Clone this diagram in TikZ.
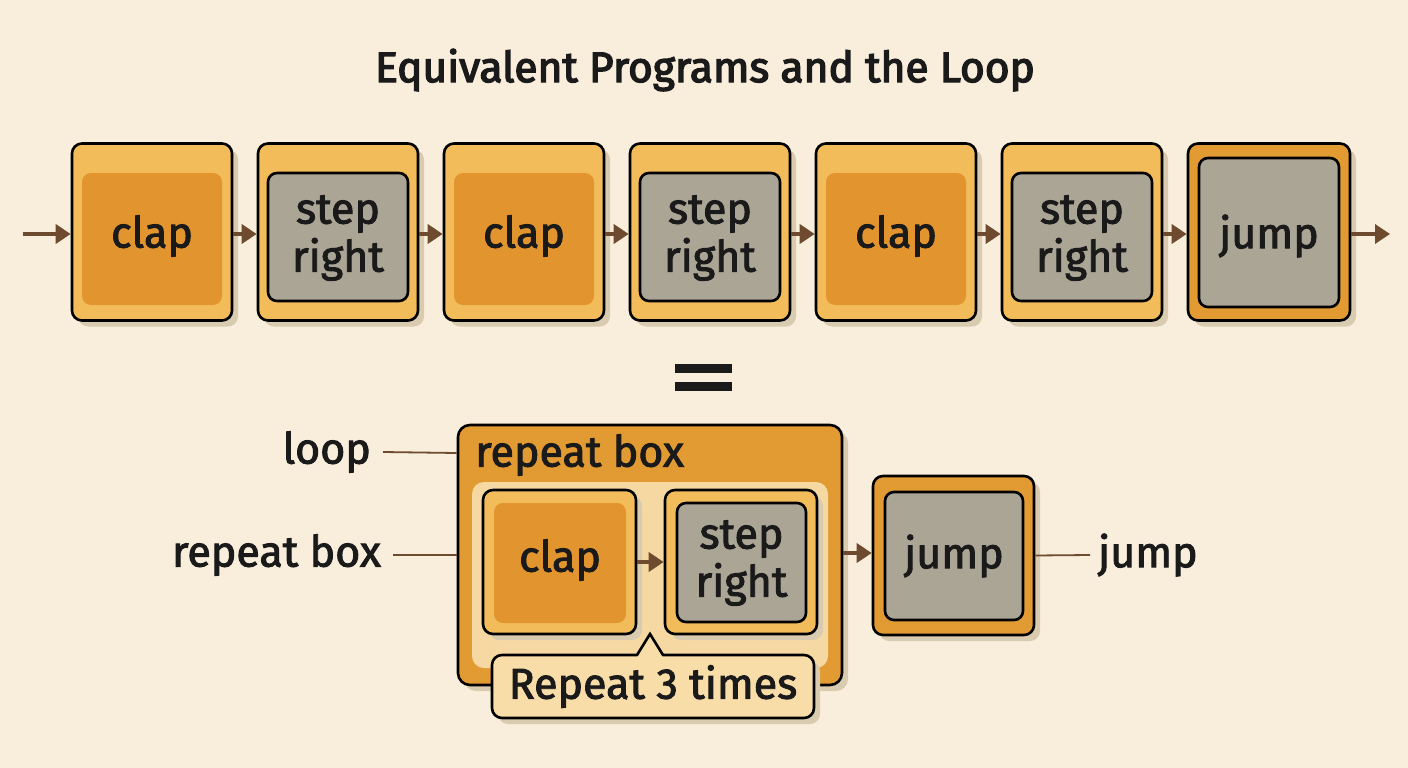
\documentclass[tikz,border=0pt]{standalone}
\usepackage{fontspec}
\setmainfont{Fira Sans}[FakeBold=2.2]
\newfontfamily\titlefont{Fira Sans}[FakeBold=3.2]
\usetikzlibrary{arrows.meta,shadows}
\definecolor{bg}{HTML}{F8EEDB}
\definecolor{lorange}{HTML}{F2BC5A}
\definecolor{dorange}{HTML}{E2952E}
\definecolor{jorange}{HTML}{E29A33}
\definecolor{grayb}{HTML}{ABA596}
\definecolor{shadowc}{HTML}{D9CBB0}
\definecolor{arrowc}{HTML}{6E4B2F}
\definecolor{panel}{HTML}{F6D9A2}
\definecolor{callfill}{HTML}{F9DDA9}
\definecolor{ink}{HTML}{1A1A1A}
\tikzset{
  shad/.style={drop shadow={shadow xshift=6pt,shadow yshift=-6pt,fill=shadowc,opacity=1}},
  outerbox/.style={draw=black,line width=2.6pt,rounded corners=10pt,fill=lorange,shad,inner sep=0pt},
  jumpouter/.style={outerbox,fill=jorange},
  clapin/.style={fill=dorange,rounded corners=9pt,inner sep=0pt},
  grayin/.style={draw=black,line width=2.6pt,fill=grayb,rounded corners=9pt,inner sep=0pt},
  lbl/.style={text=ink,font=\fontsize{43}{48}\selectfont,inner sep=0pt,align=center},
  arr/.style={draw=arrowc,line width=3.5pt,-{Triangle[length=15pt,width=19pt]}},
  lead/.style={draw=arrowc,line width=1.8pt},
}
\begin{document}
\begin{tikzpicture}[x=1pt,y=-1pt]
\fill[bg] (0,0) rectangle (1408,768);
\useasboundingbox (0,0) rectangle (1408,768);
% title
\node[lbl,font=\titlefont\fontsize{42.5}{46}\selectfont] (title) at (705,70) {Equivalent Programs and the Loop};
% top row
\foreach \i/\x in {1/152,2/338,3/524,4/710,5/896,6/1082}{
  \node[outerbox,minimum width=160pt,minimum height=177pt] (t\i) at (\x,232) {};
}
\node[jumpouter,minimum width=162pt,minimum height=177pt] (t7) at (1269,232) {};
\foreach \i/\x in {1/152,3/524,5/896}{
  \node[clapin,minimum width=140pt,minimum height=132pt] (i\i) at (\x,239) {};
  \node[lbl] (c\i) at (\x,236) {clap};
}
\foreach \i/\x in {2/338,4/710,6/1082}{
  \node[grayin,minimum width=140pt,minimum height=128pt] (i\i) at (\x,237) {};
  \node[lbl] (s\i) at (\x,238) {step\\right};
}
\node[grayin,minimum width=140pt,minimum height=149pt] (i7) at (1269,232.5) {};
\node[lbl] (j7) at (1269,236) {jump};
\coordinate (start) at (23,234);
\coordinate (end) at (1390,234);
\draw[arr] (start) -- ([yshift=-2pt]t1.west);
\foreach \a/\b in {1/2,2/3,3/4,4/5,5/6,6/7}{\draw[arr] ([yshift=-2pt]t\a.east) -- ([yshift=-2pt]t\b.west);}
\draw[arr] ([yshift=-2pt]t7.east) -- (end);
% equals
\fill[ink] (675,364) rectangle (732,373);
\fill[ink] (675,382) rectangle (732,391);
% bottom
\node[jumpouter,minimum width=384pt,minimum height=260pt,rounded corners=12pt] (rep) at (650,555) {};
\node[lbl,anchor=west] (replbl) at (475,455) {repeat box};
\node[fill=panel,rounded corners=12pt,minimum width=356pt,minimum height=186pt,inner sep=0pt] (pan) at (650,575) {};
\node[outerbox,minimum width=153pt,minimum height=144pt] (bclap) at (559.5,562) {};
\node[clapin,minimum width=132pt,minimum height=120pt] (bclapin) at (560,563) {};
\node[lbl] (bclapt) at (560,560) {clap};
\node[outerbox,minimum width=152pt,minimum height=144pt] (bstep) at (741,562) {};
\node[grayin,minimum width=129pt,minimum height=119pt] (bstepin) at (741.5,562.5) {};
\node[lbl] (bstept) at (741.5,563) {step\\right};
\draw[arr] (bclap.east) -- (bstep.west);
% callout
\node[draw=black,line width=2.6pt,fill=callfill,rounded corners=10pt,minimum width=322pt,minimum height=63pt,inner sep=0pt,lbl,shad] (call) at (653,686.5) {Repeat 3 times};
\fill[callfill] (637,657.5) -- (650,634) -- (663,657.5) -- cycle;
\draw[black,line width=2.6pt,line join=miter] (637,655) -- (650,634) -- (663,655);
% jump
\node[jumpouter,minimum width=161pt,minimum height=159pt] (bjump) at (953.5,555.5) {};
\node[grayin,minimum width=138pt,minimum height=128pt] (bjumpin) at (954,556) {};
\node[lbl] (bjumpt) at (954,556) {jump};
\draw[arr] (rep.east |- 0,553) -- (bjump.west |- 0,553);
% side labels
\node[lbl,anchor=east] (loopl) at (371,452) {loop};
\node[lbl,anchor=east] (repl) at (381,555) {repeat box};
\node[lbl,anchor=west] (jumpl) at (1098,555) {jump};
\draw[lead] (loopl.east) ++(12pt,0) -- (rep.west |- 0,453);
\draw[lead] (repl.east) ++(12pt,0) -- (rep.west |- 0,555);
\draw[lead] (bjump.east) -- ([xshift=-8pt]jumpl.west);
\end{tikzpicture}
\end{document}
